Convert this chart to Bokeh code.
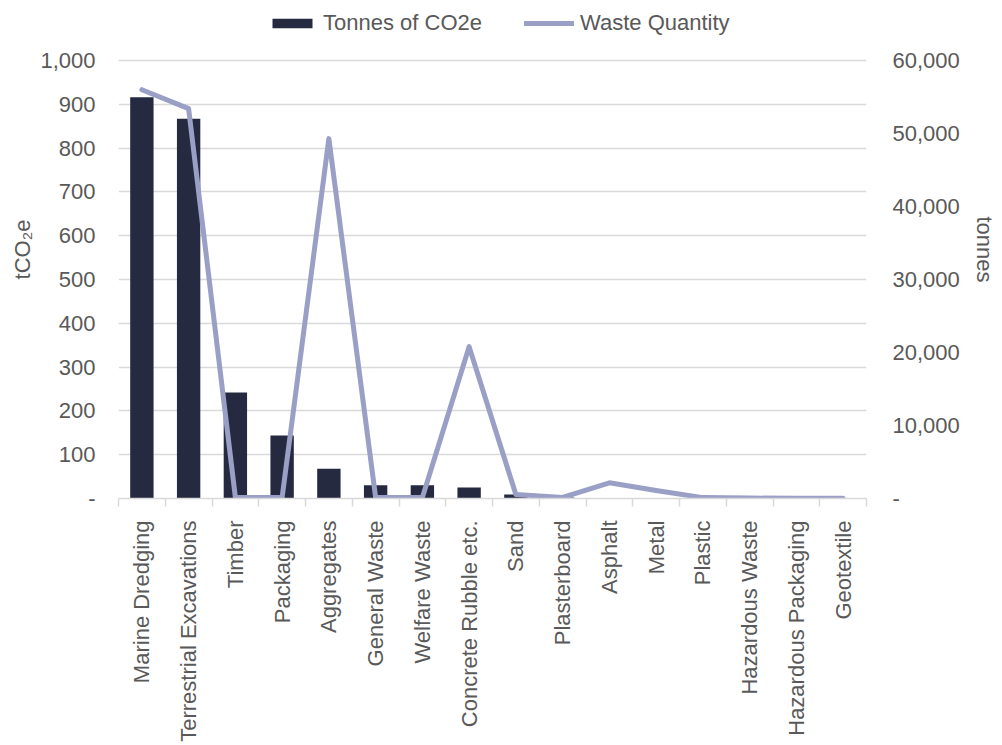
from bokeh.plotting import figure
from bokeh.models import (Range1d, LinearAxis, FixedTicker, NumeralTickFormatter,
                          Legend, LegendItem, ColumnDataSource)
from bokeh.embed import file_html
from bokeh.resources import INLINE
import math

categories = ["Marine Dredging", "Terrestrial Excavations", "Timber", "Packaging",
              "Aggregates", "General Waste", "Welfare Waste", "Concrete Rubble etc.",
              "Sand", "Plasterboard", "Asphalt", "Metal", "Plastic",
              "Hazardous Waste", "Hazardous Packaging", "Geotextile"]
tonnes_co2e = [916, 867, 242, 144, 68, 30, 30, 25, 9, 2, 1, 1, 0.5, 0.3, 0.1, 0.1]
waste_quantity = [56000, 53400, 150, 150, 49300, 150, 150, 20800, 550, 150,
                  2150, 1100, 120, 60, 30, 20]
left_ticks = [0, 100, 200, 300, 400, 500, 600, 700, 800, 900, 1000]
right_ticks = [0, 10000, 20000, 30000, 40000, 50000, 60000]

FONT = "Liberation Sans"
TXT = "#595959"
GRID = "#D9D9D9"
BAR = "#262A40"
LINE = "#9A9FC6"

# layout: frame spans the full height above the x axis; the value ranges are
# extended so that 1,000 / 60,000 sit 60px below the top of the canvas
H, BOTTOM, TOPGAP = 745, 247, 60
frame_h = H - BOTTOM
ext = frame_h / (frame_h - TOPGAP)
left_max, right_max = 1000, 60000

xs = [i + 0.5 for i in range(len(categories))]
src = ColumnDataSource(dict(x=xs, co2=tonnes_co2e, waste=waste_quantity))

p = figure(width=1002, height=H, output_backend="svg",
           toolbar_location=None, x_range=Range1d(0, len(categories)),
           y_range=Range1d(0, left_max * ext), min_border_left=118, min_border_right=136,
           min_border_top=0, min_border_bottom=BOTTOM, x_axis_location=None,
           y_axis_location=None)
p.outline_line_color = None
p.background_fill_color = "white"
p.border_fill_color = "white"
p.extra_y_ranges = {"right": Range1d(0, right_max * ext)}

# x axis
xaxis = LinearAxis(ticker=FixedTicker(ticks=xs, minor_ticks=list(range(len(categories) + 1))))
xaxis.major_label_overrides = {x: c for x, c in zip(xs, categories)}
xaxis.major_label_orientation = math.pi / 2
xaxis.major_tick_out = 0
xaxis.major_tick_in = 0
xaxis.minor_tick_out = 8
xaxis.minor_tick_in = 0
xaxis.minor_tick_line_color = GRID
xaxis.minor_tick_line_width = 1.5
xaxis.axis_line_color = GRID
xaxis.axis_line_width = 1.5
xaxis.major_label_standoff = 14
xaxis.major_label_text_font = FONT
xaxis.major_label_text_font_size = "22px"
xaxis.major_label_text_color = TXT
p.add_layout(xaxis, "below")

# left axis
yaxis = LinearAxis(ticker=FixedTicker(ticks=left_ticks),
                   formatter=NumeralTickFormatter(format="0,0"),
                   axis_label="tCO\u2082e")
yaxis.major_label_overrides = {0: "-"}
yaxis.axis_line_color = None
yaxis.major_tick_line_color = None
yaxis.major_tick_out = 0
yaxis.major_tick_in = 0
yaxis.minor_tick_line_color = None
yaxis.major_label_standoff = 23
yaxis.major_label_text_font = FONT
yaxis.major_label_text_font_size = "22px"
yaxis.major_label_text_color = TXT
yaxis.axis_label_text_font = FONT
yaxis.axis_label_text_font_size = "22px"
yaxis.axis_label_text_font_style = "normal"
yaxis.axis_label_text_color = TXT
yaxis.axis_label_standoff = 2
p.add_layout(yaxis, "left")

# right axis
raxis = LinearAxis(y_range_name="right", ticker=FixedTicker(ticks=right_ticks),
                   formatter=NumeralTickFormatter(format="0,0"), axis_label="tonnes")
raxis.major_label_overrides = {0: "-"}
raxis.axis_line_color = None
raxis.major_tick_line_color = None
raxis.major_tick_out = 0
raxis.major_tick_in = 0
raxis.minor_tick_line_color = None
raxis.major_label_standoff = 26
raxis.major_label_text_font = FONT
raxis.major_label_text_font_size = "22px"
raxis.major_label_text_color = TXT
raxis.axis_label_text_font = FONT
raxis.axis_label_text_font_size = "22px"
raxis.axis_label_text_font_style = "normal"
raxis.axis_label_text_color = TXT
raxis.axis_label_standoff = 9
p.add_layout(raxis, "right")

p.xgrid.visible = False
p.ygrid.grid_line_color = GRID
p.ygrid.grid_line_width = 1.5
p.ygrid.ticker = FixedTicker(ticks=left_ticks)

bars = p.vbar(x="x", top="co2", width=0.5, source=src, fill_color=BAR, line_color=None)
line = p.line(x="x", y="waste", source=src, y_range_name="right", line_color=LINE,
              line_width=5, line_join="round", line_cap="round")

legend = Legend(items=[LegendItem(label="Tonnes of CO2e", renderers=[bars]),
                       LegendItem(label="Waste Quantity", renderers=[line])],
                orientation="horizontal", location=(149, frame_h - 36))
legend.border_line_color = None
legend.background_fill_alpha = 0
legend.label_text_font = FONT
legend.label_text_font_size = "22px"
legend.label_text_color = TXT
legend.glyph_width = 50
legend.glyph_height = 12
legend.label_standoff = 6
legend.spacing = 42
legend.padding = 4
legend.margin = 0
p.add_layout(legend)

open("out.html", "w").write(file_html(p, INLINE))
